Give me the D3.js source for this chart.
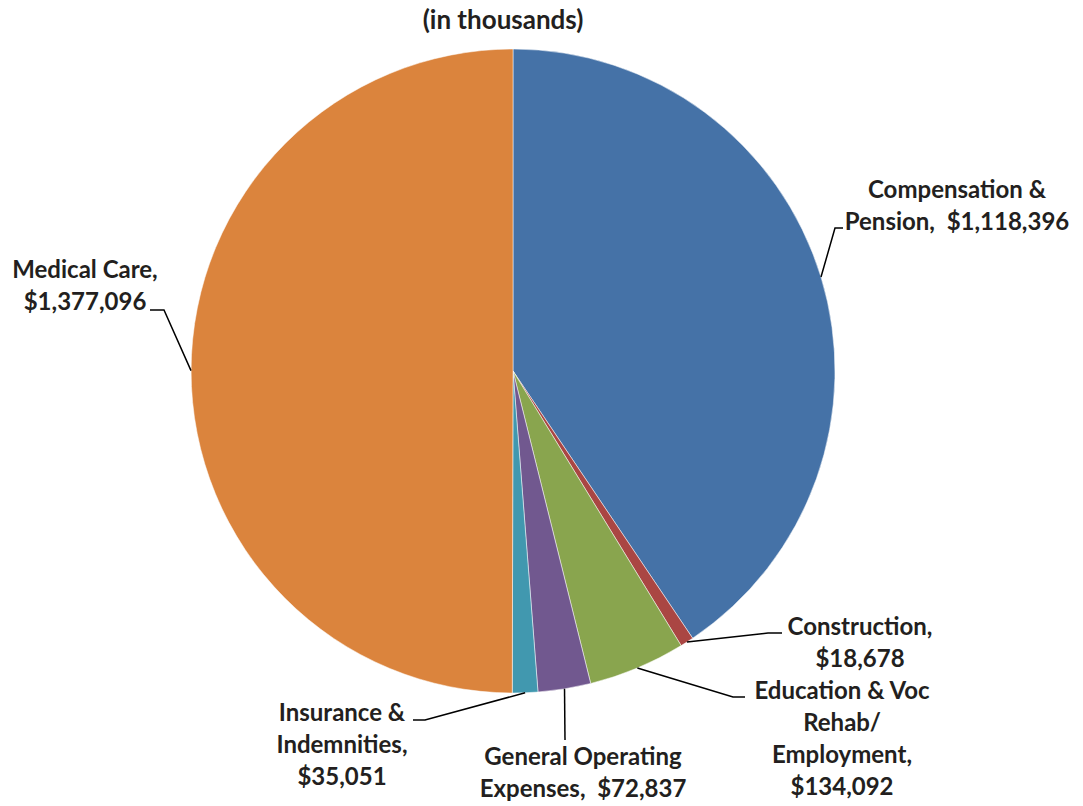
<!DOCTYPE html>
<html>
<head>
<meta charset="utf-8">
<script src="https://cdn.jsdelivr.net/npm/d3@7"></script>
<style>
    body { margin: 0; background: #fff; }
    svg text { font-family: Lato, "Open Sans", sans-serif; font-weight: bold; fill: #231f20; }
</style>
</head>
<body>
<div id="chart"></div>
<script>
// Data
const categories = ["Compensation & Pension", "Construction", "Education & Voc Rehab/ Employment",
    "General Operating Expenses", "Insurance & Indemnities", "Medical Care"];
const values = [1118396, 18678, 134092, 72837, 35051, 1377096];
const labelLines = [
    ["Compensation &", "Pension,  $1,118,396"],
    ["Construction,", "$18,678"],
    ["Education & Voc", "Rehab/", "Employment,", "$134,092"],
    ["General Operating", "Expenses,  $72,837"],
    ["Insurance &", "Indemnities,", "$35,051"],
    ["Medical Care,", "$1,377,096"]
];
const colors = ["#4572A7", "#AA4643", "#89A54E", "#71588F", "#4198AF", "#DB843D"];

// Layout for labels: text centre x, first baseline y, leader elbow x/y, leader end x
const labelPos = [
    {x: 957, y: 198, ex: 835, ey: 228, tx: 843},
    {x: 860, y: 635, ex: 768, ey: 633, tx: 782},
    {x: 842, y: 699, ex: 733, ey: 697, tx: 745},
    {x: 583, y: 765, ex: 565, ey: 740, tx: 565},
    {x: 342, y: 721, ex: 425, ey: 720, tx: 413},
    {x: 85, y: 278, ex: 164, ey: 310, tx: 150}
];

const width = 1083;
const height = 806;
const cx = 513, cy = 371, radius = 322;
const lineH = 32;

const svg = d3.select("#chart").append("svg")
    .attr("width", width)
    .attr("height", height);

// Title
svg.append("text")
    .attr("x", 503)
    .attr("y", 29)
    .attr("text-anchor", "middle")
    .style("font-size", "26px")
    .text("(in thousands)");

const pie = d3.pie().sort(null).value(d => d)(values);
const arc = d3.arc().innerRadius(0).outerRadius(radius);

const g = svg.append("g").attr("transform", `translate(${cx},${cy})`);
g.selectAll("path")
    .data(pie)
    .enter()
    .append("path")
    .attr("d", arc)
    .attr("fill", (d, i) => colors[i])
    .attr("stroke", "#fff")
    .attr("stroke-width", 0.5);

// Leader lines
pie.forEach((d, i) => {
    const mid = (d.startAngle + d.endAngle) / 2;
    const px = cx + radius * Math.sin(mid);
    const py = cy - radius * Math.cos(mid);
    const p = labelPos[i];
    svg.append("polyline")
        .attr("points", `${px},${py} ${p.ex},${p.ey} ${p.tx},${p.ey}`)
        .attr("fill", "none")
        .attr("stroke", "#000")
        .attr("stroke-width", 1.5);
});

// Labels
labelLines.forEach((lines, i) => {
    const p = labelPos[i];
    const t = svg.append("text")
        .attr("text-anchor", "middle")
        .style("font-size", "24px");
    lines.forEach((ln, j) => {
        t.append("tspan")
            .attr("x", p.x)
            .attr("y", p.y + j * lineH)
            .style("white-space", "pre")
            .text(ln);
    });
});
</script>
</body>
</html>
